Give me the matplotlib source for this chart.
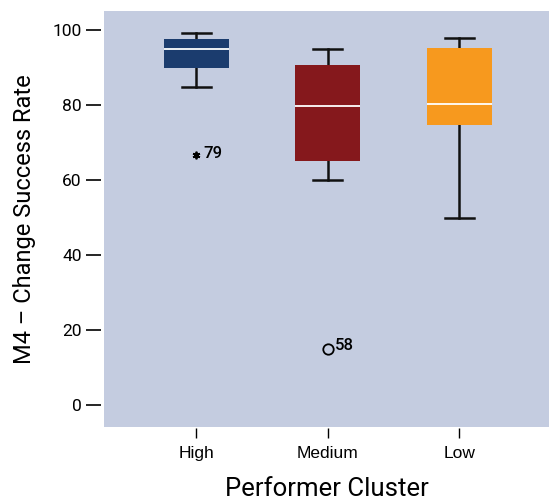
import matplotlib.pyplot as plt

# Box statistics
clusters = ["High", "Medium", "Low"]
whisker_low = [84.8, 60.0, 49.9]
q1 = [89.9, 65.1, 74.7]
medians = [94.9, 79.7, 80.3]
q3 = [97.6, 90.7, 95.2]
whisker_high = [99.2, 94.9, 97.9]
box_colors = ["#1b3c6e", "#85181c", "#f7991e"]

# Outliers: cluster position, value, case label, marker
outlier_pos = [1, 2]
outlier_vals = [66.7, 14.9]
outlier_labels = ["79", "58"]
outlier_markers = ["*", "o"]

bg = "#c4cce0"

stats = []
for i, name in enumerate(clusters):
    stats.append({
        "label": name,
        "whislo": whisker_low[i],
        "q1": q1[i],
        "med": medians[i],
        "q3": q3[i],
        "whishi": whisker_high[i],
        "fliers": [],
    })

fig = plt.figure(figsize=(5.49, 5.0), dpi=100)
ax = fig.add_axes([0.1894, 0.146, 0.8106, 0.832])
ax.set_facecolor(bg)

bp = ax.bxp(stats, positions=[1, 2, 3], widths=0.494, patch_artist=True,
            showfliers=False,
            boxprops=dict(linewidth=0),
            medianprops=dict(color="white", linewidth=1.3),
            whiskerprops=dict(color="#111111", linewidth=1.8),
            capprops=dict(color="#111111", linewidth=1.8),
            capwidths=0.22)
for patch, c in zip(bp["boxes"], box_colors):
    patch.set_facecolor(c)
    patch.set_edgecolor(c)
for w in bp["whiskers"]:
    w.set_zorder(1)

for pos, val, lab, mk in zip(outlier_pos, outlier_vals, outlier_labels, outlier_markers):
    if mk == "o":
        ax.plot(pos, val, marker="o", markersize=7.5, markerfacecolor="none",
                markeredgecolor="black", markeredgewidth=1.3, linestyle="none")
        dy = -1
    else:
        ax.plot(pos, val, marker=(6, 2, 0), markersize=5.5, color="black",
                markeredgewidth=1.3, linestyle="none")
        dy = -2.5
    ax.annotate(lab, (pos, val), xytext=(5, dy), textcoords="offset points",
                fontsize=12, family="Roboto", fontweight="medium",
                va="baseline", ha="left")

ax.set_xlim(0.3, 3.68)
ax.set_ylim(-5.9, 105.1)
ax.set_yticks([0, 20, 40, 60, 80, 100])

for s in ax.spines.values():
    s.set_visible(False)
ax.spines["left"].set_position(("outward", 2))
ax.spines["bottom"].set_position(("outward", 1))

ax.tick_params(axis="y", length=11, width=1.2, pad=3, labelsize=12.5)
ax.tick_params(axis="x", length=7.5, width=1.0, pad=5, labelsize=12.5)
for t in ax.get_yticklabels():
    t.set_family("Roboto")
for t in ax.get_xticklabels():
    t.set_family("Liberation Sans")

ax.set_xlabel("Performer Cluster", fontsize=18.5, family="Roboto", labelpad=12)
ax.set_ylabel("M4 \u2013 Change Success Rate", fontsize=17, family="Roboto", labelpad=12)

fig.savefig("out.png", dpi=100)
